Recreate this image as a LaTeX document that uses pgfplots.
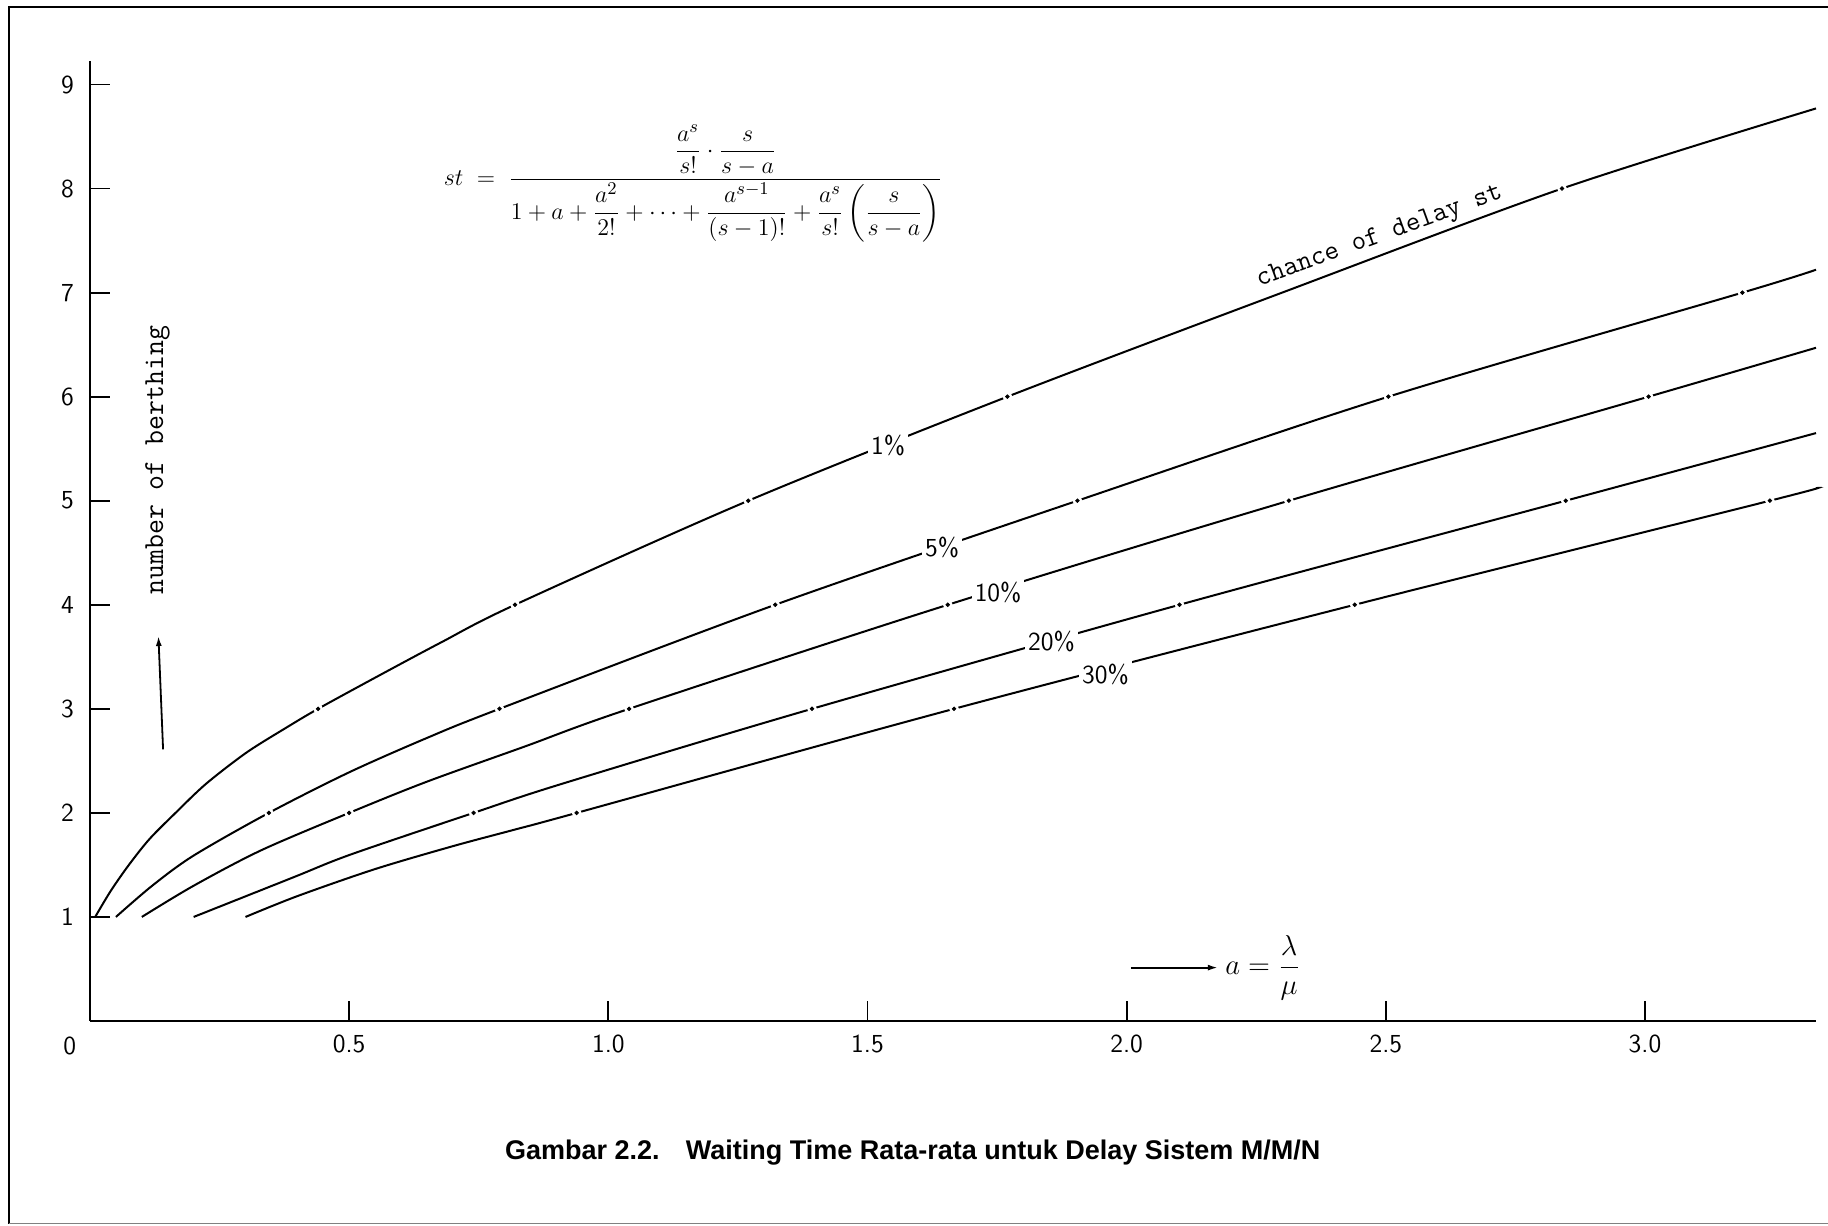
\documentclass[border=0pt]{standalone}
\usepackage{fontspec}
\usepackage{amsmath}
\usepackage{pgfplots}
\pgfplotsset{compat=1.18}
\usepackage{pgfplotstable}
\usetikzlibrary{arrows.meta}
\newfontfamily\capfont{Liberation Sans}

% chance of delay 1%
\pgfplotstableread{
x y
0.010 1.00
0.040 1.25
0.075 1.50
0.115 1.75
0.165 2.00
0.224 2.28
0.302 2.58
0.379 2.82
0.440 3.00
0.554 3.31
0.678 3.64
0.820 4.00
1.270 5.00
1.770 6.00
2.300 7.00
2.840 8.00
3.330 8.77
}\curveA
% 5%
\pgfplotstableread{
x y
0.050 1.00
0.120 1.30
0.200 1.59
0.345 2.00
0.500 2.39
0.650 2.72
0.790 3.00
1.322 4.00
1.905 5.00
2.505 6.00
3.188 7.00
3.330 7.22
}\curveB
% 10%
\pgfplotstableread{
x y
0.100 1.00
0.200 1.30
0.330 1.64
0.500 2.00
0.650 2.30
0.840 2.64
1.040 3.00
1.655 4.00
2.313 5.00
3.007 6.00
3.330 6.47
}\curveC
% 20%
\pgfplotstableread{
x y
0.200 1.00
0.392 1.38
0.503 1.60
0.740 2.00
0.911 2.28
1.393 3.00
2.102 4.00
2.847 5.00
3.330 5.65
}\curveD
% 30%
\pgfplotstableread{
x y
0.300 1.00
0.400 1.20
0.550 1.46
0.700 1.68
0.820 1.84
0.939 2.00
1.667 3.00
2.440 4.00
3.241 5.00
3.330 5.12
}\curveE
% dots at whole numbers of berths
\pgfplotstableread{
x y
0.440 3
0.820 4
1.270 5
1.770 6
2.840 8
0.345 2
0.790 3
1.322 4
1.905 5
2.505 6
3.188 7
0.500 2
1.040 3
1.655 4
2.313 5
3.007 6
0.740 2
1.393 3
2.102 4
2.847 5
0.939 2
1.667 3
2.440 4
3.241 5
}\dotsT

\begin{document}
\begin{tikzpicture}
\useasboundingbox (0,0) rectangle (914pt,613pt);
% scanned page frame
\draw[line width=1pt] (4.5pt,1pt) -- (4.5pt,609.5pt) -- (914pt,609.5pt);
\draw[line width=0.5pt, gray] (4.5pt,1pt) -- (914pt,1pt);
\begin{axis}[
  at={(45pt,102.5pt)}, anchor=south west,
  scale only axis, width=863pt, height=480.2pt,
  xmin=0, xmax=3.33, ymin=0, ymax=9.23,
  axis lines=left, axis line style={-, line width=1.1pt},
  tick align=inside, major tick length=10pt,
  tick style={line width=0.9pt, black},
  xtick={0.5,1.0,1.5,2.0,2.5,3.0},
  xticklabels={0.5,1.0,1.5,2.0,2.5,3.0},
  ytick={1,2,3,4,5,6,7,8,9},
  yticklabels={1,2,3,4,5,6,7,8,9},
  ticklabel style={font=\sffamily\fontsize{13}{13}\selectfont},
  xticklabel style={yshift=-3.5pt},
  yticklabel style={xshift=-4.5pt},
  clip=false,
]
\addplot[black, line width=1pt, smooth] table {\curveA};
\addplot[black, line width=1pt, smooth] table {\curveB};
\addplot[black, line width=1pt, smooth] table {\curveC};
\addplot[black, line width=1pt, smooth] table {\curveD};
\addplot[black, line width=1pt, smooth] table {\curveE};
\addplot[only marks, mark=*, mark size=2.2pt, mark options={draw=white, fill=white}] table {\dotsT};
\addplot[only marks, mark=*, mark size=0.9pt, mark options={draw=black, fill=black}] table {\dotsT};

% curve labels
\begin{scope}[every node/.style={fill=white, inner sep=1.5pt, font=\sffamily\fontsize{13}{13}\selectfont}]
\node at (axis cs:1.54,5.53) {1\%};
\node at (axis cs:1.644,4.55) {5\%};
\node at (axis cs:1.752,4.12) {10\%};
\node at (axis cs:1.855,3.65) {20\%};
\node at (axis cs:1.959,3.33) {30\%};
\end{scope}

\node[rotate=20, anchor=south, inner sep=3pt, font=\ttfamily\fontsize{14}{14}\selectfont]
  at (axis cs:2.50,7.37) {chance of delay st};

% origin label
\node[font=\sffamily\fontsize{13}{13}\selectfont] at (axis cs:-0.039,-0.24) {0};

% y axis label and arrow
\node[rotate=90, font=\ttfamily\fontsize{14.5}{14.5}\selectfont] at (axis cs:0.130,5.39) {number of berthing};
\draw[line width=0.9pt, -{Latex[length=5pt,width=3pt]}] (axis cs:0.141,2.61) -- (axis cs:0.132,3.70);

% x variable
\draw[line width=0.9pt, -{Latex[length=5pt,width=3pt]}] (axis cs:2.008,0.513) -- (axis cs:2.176,0.513)
  node[right, font=\fontsize{14}{16}\selectfont] {$a=\dfrac{\lambda}{\mu}$};

% formula
\node[font=\fontsize{13}{15}\selectfont] at (axis cs:1.164,8.05)
 {$st \;=\; \dfrac{\dfrac{a^{s}}{s!}\cdot\dfrac{s}{s-a}}{1+a+\dfrac{a^{2}}{2!}+\cdots+\dfrac{a^{s-1}}{(s-1)!}+\dfrac{a^{s}}{s!}\left(\dfrac{s}{s-a}\right)}$};
\end{axis}
\node[font=\capfont\bfseries\fontsize{13.5}{16}\selectfont] at (456.4pt,36.5pt)
  {Gambar 2.2.\hspace{0.6em} Waiting Time Rata-rata untuk Delay Sistem M/M/N};
\end{tikzpicture}
\end{document}
